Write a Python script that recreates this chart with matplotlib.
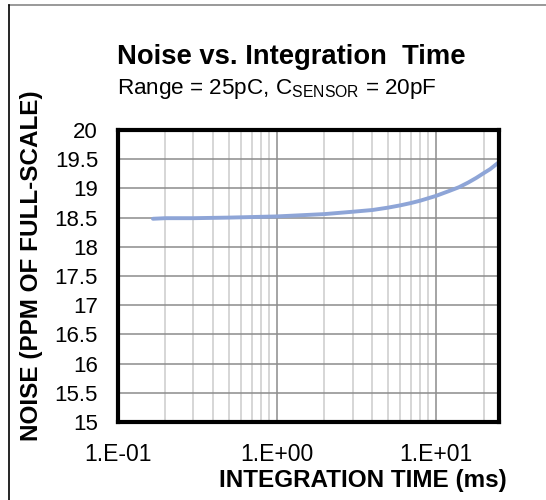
import matplotlib
matplotlib.use("Agg")
import matplotlib.pyplot as plt
from matplotlib.lines import Line2D
from matplotlib.ticker import FixedLocator, NullFormatter

plt.rcParams['font.family'] = ['Liberation Sans', 'DejaVu Sans']
plt.rcParams['mathtext.fontset'] = 'custom'
plt.rcParams['mathtext.rm'] = 'Liberation Sans'

# === DATA ===
integration_time_ms = [0.167, 0.2, 0.3, 0.5, 1, 2, 3, 4, 5, 6, 7, 8, 10,
                       12, 14, 16, 18, 20, 22, 25]
noise_ppm = [18.48, 18.49, 18.49, 18.50, 18.52, 18.56, 18.60, 18.63, 18.67,
             18.71, 18.75, 18.79, 18.87, 18.95, 19.02, 19.10, 19.18, 19.26,
             19.33, 19.45]

x_ticks = [0.1, 1, 10]
x_tick_labels = ['1.E-01', '1.E+00', '1.E+01']
y_ticks = [15, 15.5, 16, 16.5, 17, 17.5, 18, 18.5, 19, 19.5, 20]
y_tick_labels = ['15', '15.5', '16', '16.5', '17', '17.5', '18', '18.5',
                 '19', '19.5', '20']
x_minor = [m * d for d in (0.1, 1, 10) for m in range(2, 10) if m * d < 25]

line_color = '#8EA5D7'

# === FIGURE ===
W, H = 546, 500
fig = plt.figure(figsize=(W / 100, H / 100), dpi=100)
ax = fig.add_axes([117.5 / W, 1 - 422 / H, 381.5 / W, 292 / H])

ax.set_xscale('log')
ax.set_xlim(0.1, 25)
ax.set_ylim(15, 20)

ax.xaxis.set_major_locator(FixedLocator(x_ticks))
ax.set_xticklabels(x_tick_labels)
ax.xaxis.set_minor_locator(FixedLocator(x_minor))
ax.xaxis.set_minor_formatter(NullFormatter())
ax.set_yticks(y_ticks)
ax.set_yticklabels(y_tick_labels)

ax.tick_params(axis='both', which='both', length=0, labelsize=16)
ax.tick_params(axis='x', labelsize=16.5)
ax.tick_params(axis='y', pad=14)
ax.tick_params(axis='x', pad=15)

ax.grid(axis='y', which='major', color='#8c8c8c', linewidth=1.1)
ax.grid(axis='x', which='major', color='#8c8c8c', linewidth=1.1)
ax.grid(axis='x', which='minor', color='#cccccc', linewidth=1.1)
ax.set_axisbelow(True)

for sp in ax.spines.values():
    sp.set_linewidth(3)
    sp.set_color('black')

ax.plot(integration_time_ms, noise_ppm, color=line_color, linewidth=2.8,
        solid_capstyle='round', solid_joinstyle='round', clip_on=False)

# titles and axis labels
fig.text(117 / W, 1 - 57 / H, 'Noise vs. Integration  Time', fontsize=19.7,
         fontweight='bold', ha='left', va='center')
fig.text(117 / W, 1 - 89 / H, r'Range = 25pC, C$_{\mathrm{SENSOR}}$ = 20pF',
         fontsize=16.2, ha='left', va='center')
fig.text(363 / W, 1 - 480 / H, 'INTEGRATION TIME (ms)', fontsize=17.5,
         fontweight='bold', ha='center', va='center')
fig.text(32 / W, 1 - 266 / H, 'NOISE (PPM OF FULL-SCALE)', fontsize=17.5,
         fontweight='bold', rotation=90, ha='center', va='center')

# outer chart frame (only top and left edges visible)
fig.add_artist(Line2D([9 / W, 1], [1 - 5 / H, 1 - 5 / H], color='#888888',
                      linewidth=1.2, transform=fig.transFigure))
fig.add_artist(Line2D([9 / W, 9 / W], [0, 1 - 5 / H], color='black',
                      linewidth=1.2, transform=fig.transFigure))

fig.savefig('out.png', dpi=100)
